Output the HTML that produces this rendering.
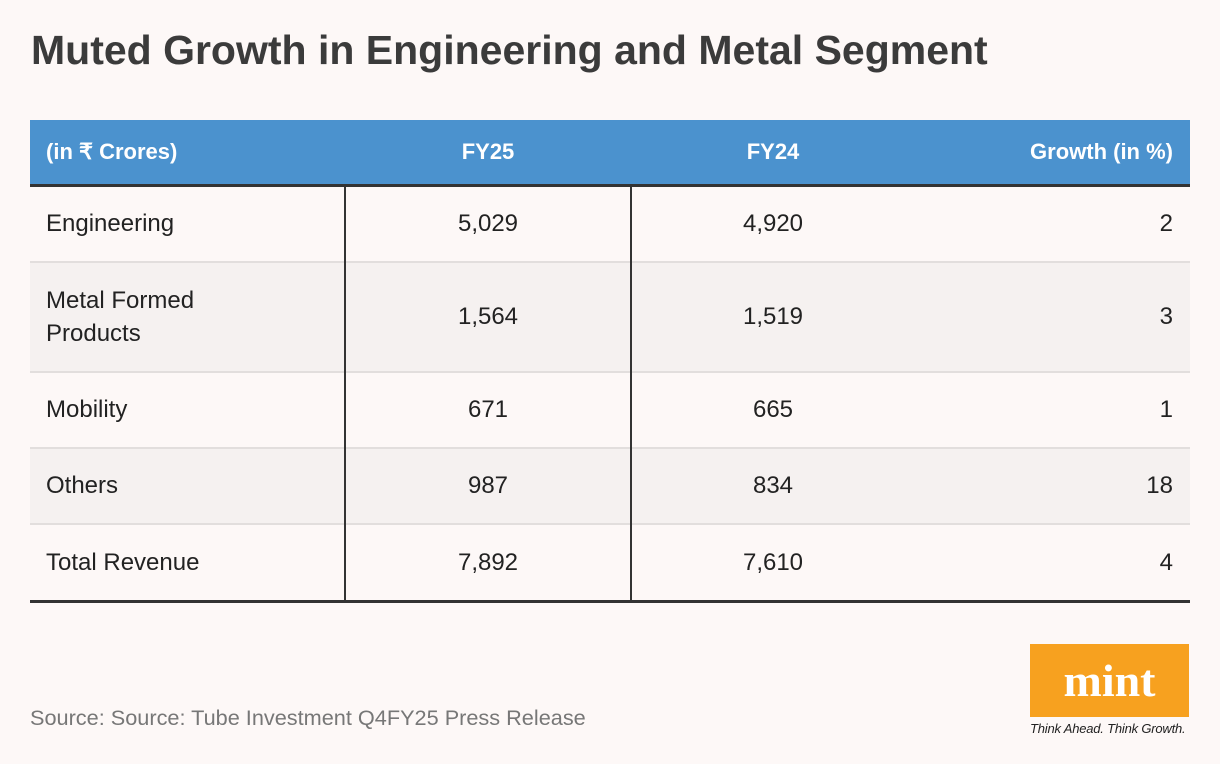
<!DOCTYPE html>
<html><head><meta charset="utf-8"><style>
body{margin:0;width:1220px;height:764px;background:#fdf8f7;font-family:"Liberation Sans",sans-serif;position:relative;overflow:hidden}
.t{position:absolute;left:31px;top:27px;font-size:41px;font-weight:bold;color:#3b3b3b;letter-spacing:0px;white-space:nowrap}
.hdr{position:absolute;left:30px;top:120px;width:1160px;height:64px;background:#4b92ce}
.thick{position:absolute;left:30px;top:184px;width:1160px;height:3px;background:#333}
.row{position:absolute;left:30px;width:1160px}
.c{position:absolute;top:0;height:100%;display:flex;align-items:center;font-size:24px;color:#222}
.h .c{color:#fff;font-weight:bold;font-size:22px}
.c1{left:16px;width:300px}
.c2{left:315px;width:286px;justify-content:center}
.c3{left:601px;width:284px;justify-content:center}
.c4{right:17px;width:250px;justify-content:flex-end}
.v{position:absolute;top:187px;width:2px;height:414px;background:#333}
.src{position:absolute;left:30px;top:705px;font-size:21.7px;color:#777;white-space:nowrap}
.logo{position:absolute;left:1030px;top:644px;width:159px;height:73px;background:#f7a11f;color:#fff;font-family:"Liberation Serif",serif;font-weight:bold;font-size:46px;display:flex;align-items:center;justify-content:center}
.tag{position:absolute;left:1030px;top:721px;font-size:13px;letter-spacing:-0.2px;font-style:italic;color:#222;white-space:nowrap}
</style></head><body>
<div class="t">Muted Growth in Engineering and Metal Segment</div>
<div class="hdr row h" style="height:64px">
<div class="c c1">(in ₹ Crores)</div>
<div class="c c2">FY25</div>
<div class="c c3">FY24</div>
<div class="c c4">Growth (in %)</div>
</div>
<div class="thick"></div>
<div class="row" style="top:187px;height:76px;border-bottom:2px solid #e2dedd;box-sizing:border-box">
<div class="c c1">Engineering</div><div class="c c2">5,029</div><div class="c c3">4,920</div><div class="c c4">2</div></div>
<div class="row" style="top:263px;height:110px;background:#f5f1f0;border-bottom:2px solid #e2dedd;box-sizing:border-box">
<div class="c c1" style="line-height:33px">Metal Formed<br>Products</div><div class="c c2">1,564</div><div class="c c3">1,519</div><div class="c c4">3</div></div>
<div class="row" style="top:373px;height:76px;border-bottom:2px solid #e2dedd;box-sizing:border-box">
<div class="c c1">Mobility</div><div class="c c2">671</div><div class="c c3">665</div><div class="c c4">1</div></div>
<div class="row" style="top:449px;height:76px;background:#f5f1f0;border-bottom:2px solid #e2dedd;box-sizing:border-box">
<div class="c c1">Others</div><div class="c c2">987</div><div class="c c3">834</div><div class="c c4">18</div></div>
<div class="row" style="top:525px;height:75px">
<div class="c c1">Total Revenue</div><div class="c c2">7,892</div><div class="c c3">7,610</div><div class="c c4">4</div></div>
<div class="row" style="top:600px;height:3px;background:#333"></div>
<div class="v" style="left:344px"></div>
<div class="v" style="left:630px"></div>
<div class="src">Source: Source: Tube Investment Q4FY25 Press Release</div>
<div class="logo">mint</div>
<div class="tag">Think Ahead. Think Growth.</div>
</body></html>
